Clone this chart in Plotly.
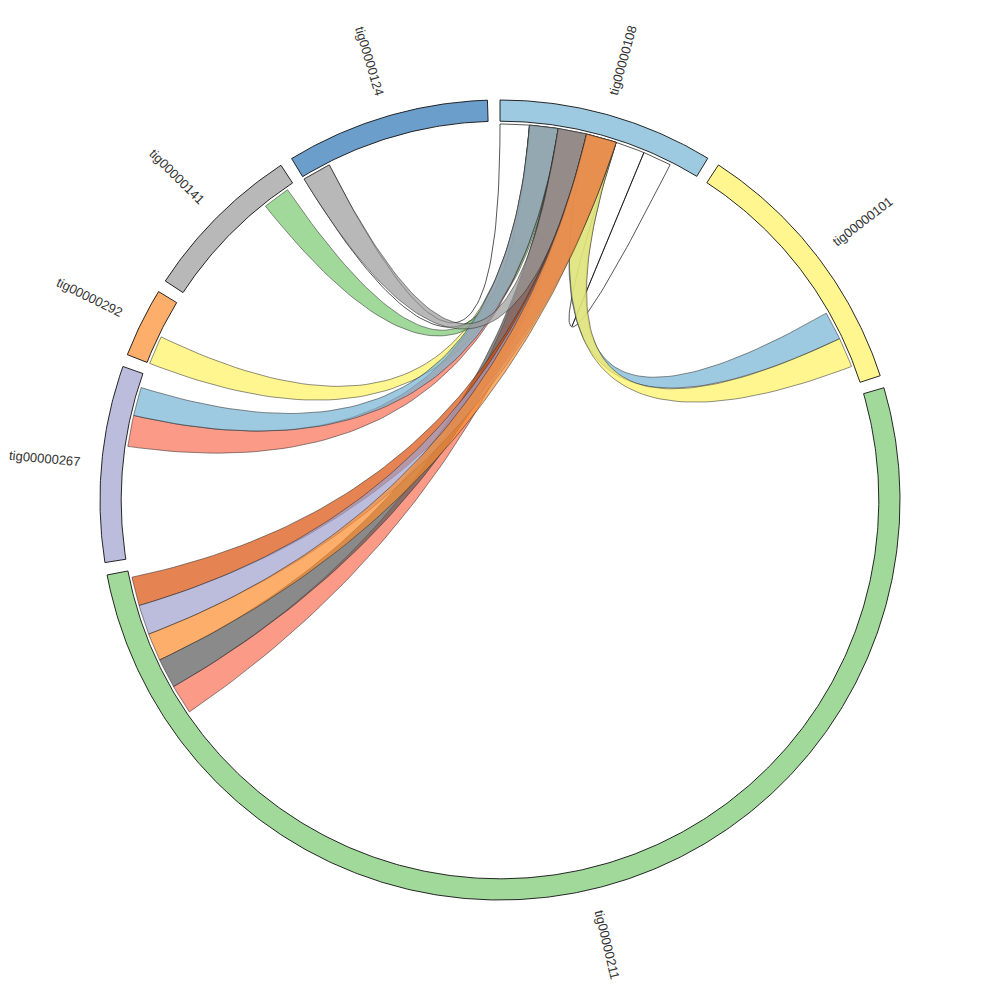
import numpy as np
import plotly.graph_objects as go

# ---------------- data ----------------
contigs = ["tig00000108", "tig00000101", "tig00000211", "tig00000267",
           "tig00000292", "tig00000141", "tig00000124"]
contig_lengths = [31.3, 38.8, 185.5, 28.5, 10.1, 23.6, 29.6]
contig_colors = ["#9ecae1", "#fff68f", "#a1d99b", "#bcbddc",
                 "#fdae6b", "#b8b8b8", "#6b9ecb"]

# links (drawn in this order): contig A [start, end]  <->  contig B [start, end]
link_a = ["tig00000124", "tig00000108",
          "tig00000101", "tig00000101",
          "tig00000292", "tig00000141", "tig00000267", "tig00000267",
          "tig00000211", "tig00000211", "tig00000124",
          "tig00000211", "tig00000211", "tig00000211"]
link_a_start = [0.0, 18.0,
                27.1, 31.5,
                0.0, 18.2, 17.2, 22.0,
                162.0, 166.55, 0.0,
                180.0, 175.4, 171.15]
link_a_end = [4.4, 22.5,
              31.5, 36.1,
              4.4, 22.4, 22.0, 26.4,
              166.55, 171.15, 4.4,
              184.45, 180.0, 175.4]
link_b = ["tig00000108"] * 14
link_b_start = [0.0, 22.5,
                13.3, 13.3,
                4.5, 4.5, 4.5, 4.5,
                8.9, 8.9, 8.9,
                13.3, 13.3, 13.3]
link_b_end = [4.5, 26.9,
              18.0, 18.0,
              8.9, 8.9, 8.9, 8.9,
              13.3, 13.3, 13.3,
              18.0, 18.0, 18.0]
link_colors = ["#ffffff", "#ffffff",
               "#9ecae1", "#fff68f",
               "#fff68f", "#a1d99b", "#fc9a88", "#9ecae1",
               "#fc9a88", "#8b8b8b", "#b8b8b8",
               "#e68452", "#bcbddc", "#fdae6b"]
link_alpha = [1.0, 1.0] + [0.7] * 12

# ---------------- geometry ----------------
GAP = 1.8
R_OUT, R_IN, R_LINK, R_LABEL = 1.0, 0.947, 0.94, 1.143

starts = {}
pos = 0.0
for name, ln in zip(contigs, contig_lengths):
    starts[name] = pos
    pos += ln + GAP


def xy(theta_deg, r):
    t = np.radians(theta_deg)
    return r * np.sin(t), r * np.cos(t)


def arc_pts(a0, a1, r, n=None):
    if n is None:
        n = max(4, int(abs(a1 - a0) * 2) + 2)
    th = np.linspace(a0, a1, n)
    return xy(th, r)


def bezier(p0, p2, n=70):
    t = np.linspace(0, 1, n)
    x = (1 - t) ** 2 * p0[0] + t ** 2 * p2[0]
    y = (1 - t) ** 2 * p0[1] + t ** 2 * p2[1]
    return x, y


def base_rgba(hexcol, a):
    h = hexcol.lstrip("#")
    rgb = [int(h[i:i + 2], 16) for i in (0, 2, 4)]
    base = [min(255, max(0, round((c - (1 - a) * 255) / a))) for c in rgb]
    return f"rgba({base[0]},{base[1]},{base[2]},{a})"


fig = go.Figure()

# ribbons
for i in range(len(link_a)):
    s0 = starts[link_a[i]] + link_a_start[i]
    s1 = starts[link_a[i]] + link_a_end[i]
    t0 = starts[link_b[i]] + link_b_start[i]
    t1 = starts[link_b[i]] + link_b_end[i]
    xs, ys = [], []
    ax, ay = arc_pts(s0, s1, R_LINK)
    xs += list(ax); ys += list(ay)
    bx, by = bezier(xy(s1, R_LINK), xy(t0, R_LINK))
    xs += list(bx); ys += list(by)
    ax, ay = arc_pts(t0, t1, R_LINK)
    xs += list(ax); ys += list(ay)
    bx, by = bezier(xy(t1, R_LINK), xy(s0, R_LINK))
    xs += list(bx); ys += list(by)
    lc = "rgba(0,0,0,0.95)" if link_alpha[i] == 1.0 else "rgba(40,40,40,0.75)"
    fig.add_trace(go.Scatter(
        x=xs, y=ys, mode="lines", fill="toself",
        fillcolor=base_rgba(link_colors[i], link_alpha[i]),
        line=dict(color=lc, width=0.7),
        hoverinfo="skip", showlegend=False))

# contig arcs
for name, ln, col in zip(contigs, contig_lengths, contig_colors):
    a0 = starts[name]
    a1 = a0 + ln
    ox, oy = arc_pts(a0, a1, R_OUT)
    ix, iy = arc_pts(a1, a0, R_IN)
    xs = list(ox) + list(ix) + [ox[0]]
    ys = list(oy) + list(iy) + [oy[0]]
    fig.add_trace(go.Scatter(
        x=xs, y=ys, mode="lines", fill="toself", fillcolor=col,
        line=dict(color="#111111", width=0.9),
        hoverinfo="text", text=name, showlegend=False))

# labels
annotations = []
for name, ln in zip(contigs, contig_lengths):
    mid = (starts[name] + ln / 2.0) % 360
    lx, ly = xy(mid, R_LABEL)
    ang = mid - 90 if mid < 180 else mid - 270
    annotations.append(dict(
        x=float(lx), y=float(ly), xref="x", yref="y", text=name,
        showarrow=False, textangle=ang, xanchor="center", yanchor="middle",
        font=dict(family="Liberation Sans, Arial, sans-serif", size=13, color="#333333")))

fig.update_layout(
    width=1000, height=1000,
    margin=dict(l=0, r=0, t=0, b=0),
    paper_bgcolor="white", plot_bgcolor="white",
    xaxis=dict(range=[-1.23, 1.27], visible=False, fixedrange=True),
    yaxis=dict(range=[-1.27, 1.23], visible=False, scaleanchor="x", scaleratio=1, fixedrange=True),
    annotations=annotations,
    showlegend=False,
)

fig.write_html("out.html")
